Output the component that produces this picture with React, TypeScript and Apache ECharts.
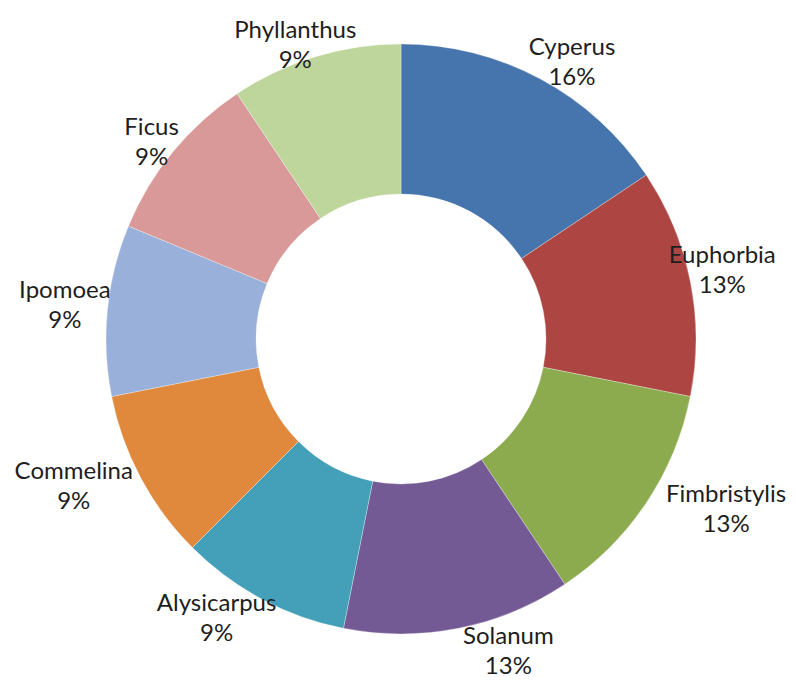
import React, { useEffect, useRef } from "react";
import * as echarts from "echarts";

const categories = [
  "Cyperus",
  "Euphorbia",
  "Fimbristylis",
  "Solanum",
  "Alysicarpus",
  "Commelina",
  "Ipomoea",
  "Ficus",
  "Phyllanthus",
];
const counts = [5, 4, 4, 4, 3, 3, 3, 3, 3];
const colors = [
  "#4674AD",
  "#AD4643",
  "#8CAB4E",
  "#735A94",
  "#43A0B8",
  "#E0883B",
  "#98B0DA",
  "#D99998",
  "#BED69C",
];

// label placement (angle shift in degrees, distance from centre in px)
const LABEL_ANGLE_SHIFT = [3.4, -1.2, -6.4, -7.8, 5.5, 4.2, 0.4, -0.8, -2.8];
const LABEL_DIST = [327, 329, 366, 329, 333, 358, 338, 319, 314];

const CX = 401;
const CY = 339;

export default function App() {
  const ref = useRef<HTMLDivElement>(null);
  useEffect(() => {
    document.body.style.margin = "0";
    const chart = echarts.init(ref.current!, null, { renderer: "svg" });
    const total = counts.reduce((a, b) => a + b, 0);
    const mids: number[] = [];
    let acc = 0;
    counts.forEach((c) => {
      mids.push(((acc + c / 2) / total) * 360);
      acc += c;
    });
    chart.setOption({
      animation: false,
      backgroundColor: "#ffffff",
      series: [
        {
          type: "pie",
          center: [CX, CY],
          radius: [145, 295],
          startAngle: 90,
          clockwise: true,
          percentPrecision: 0,
          avoidLabelOverlap: false,
          data: categories.map((name, i) => ({
            name,
            value: counts[i],
            itemStyle: { color: colors[i] },
          })),
          itemStyle: { borderColor: "rgba(255,255,255,0.5)", borderWidth: 0.6 },
          label: {
            show: true,
            position: "outside",
            formatter: "{b}\n{d}%",
            fontFamily: "Lato, 'Noto Sans', sans-serif",
            fontSize: 24,
            lineHeight: 30,
            color: "#1e1e1e",
            align: "center",
          },
          labelLine: { show: false },
          labelLayout: (params: any) => {
            const i = params.dataIndex;
            const a = ((mids[i] + LABEL_ANGLE_SHIFT[i]) * Math.PI) / 180;
            const r = LABEL_DIST[i];
            return {
              x: CX + r * Math.sin(a),
              y: CY - r * Math.cos(a),
              align: "center",
              verticalAlign: "middle",
            };
          },
          emphasis: { disabled: true },
        },
      ],
    });
    return () => chart.dispose();
  }, []);
  return <div ref={ref} style={{ width: 795, height: 680 }} />;
}
